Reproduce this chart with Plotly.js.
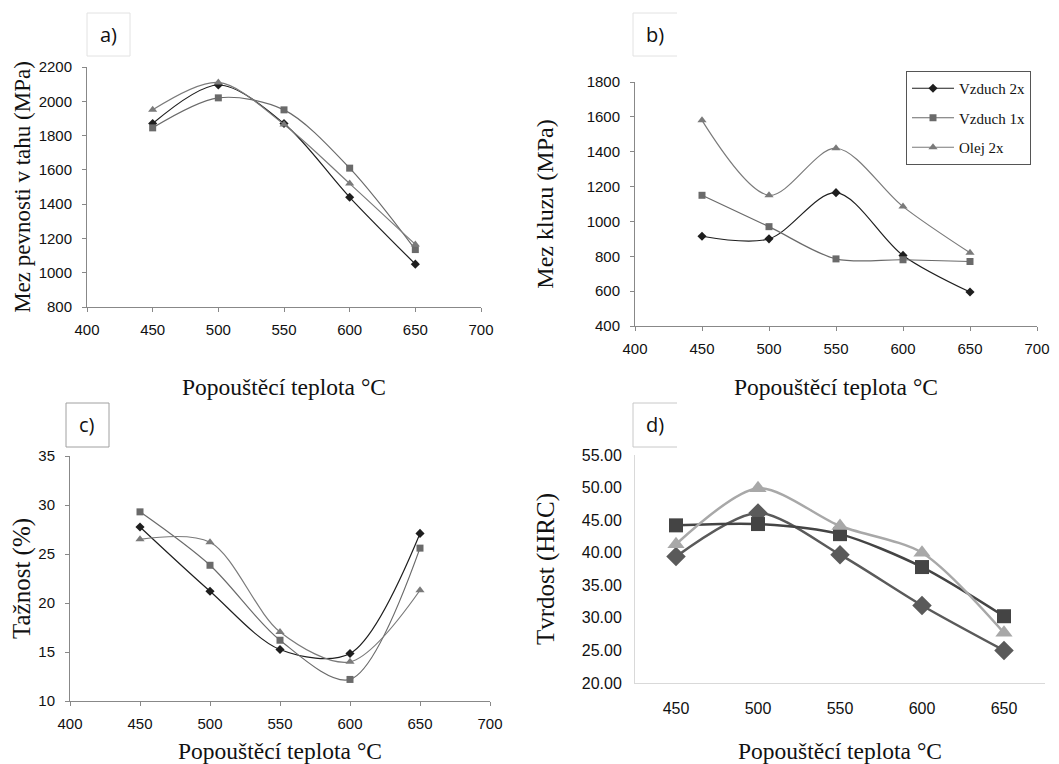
<!DOCTYPE html>
<html><head><meta charset="utf-8">
<script src="https://cdn.plot.ly/plotly-3.0.1.min.js"></script>
<style>html,body{margin:0;padding:0;background:#fff}</style>
</head><body><div id="chart" style="width:1059px;height:764px"></div>
<script>
// ---- data ----
const temps = [450, 500, 550, 600, 650];
const tempLabels = ['450', '500', '550', '600', '650'];
const seriesNames = ['Vzduch 2x', 'Vzduch 1x', 'Olej 2x'];
const panelLabels = ['a)', 'b)', 'c)', 'd)'];
const xTitle = 'Popouštěcí teplota °C';
const yTitles = ['Mez pevnosti v tahu (MPa)', 'Mez kluzu (MPa)', 'Tažnost (%)', 'Tvrdost (HRC)'];

// a) tensile strength
const tensileVzduch2 = [1870, 2095, 1870, 1440, 1050];
const tensileVzduch1 = [1845, 2020, 1950, 1610, 1135];
const tensileOlej2   = [1950, 2110, 1865, 1520, 1165];
// b) yield strength
const yieldVzduch2 = [915, 900, 1165, 805, 595];
const yieldVzduch1 = [1150, 970, 785, 780, 770];
const yieldOlej2   = [1580, 1150, 1420, 1085, 820];
// c) elongation
const elongVzduch2 = [27.75, 21.2, 15.25, 14.85, 27.1];
const elongVzduch1 = [29.3, 23.85, 16.2, 12.2, 25.6];
const elongOlej2   = [26.5, 26.2, 17.05, 14.0, 21.3];
// d) hardness
const hardVzduch2 = [39.4, 46.1, 39.7, 31.9, 25.0];
const hardVzduch1 = [44.2, 44.4, 42.85, 37.8, 30.25];
const hardOlej2   = [41.3, 49.9, 44.1, 40.0, 27.7];

// ---- layout helpers ----
const W = 1059, H = 764;
const px = (a, b) => [a / W, b / W];
const py = (top, bottom) => [1 - bottom / H, 1 - top / H];
const SERIF = 'Liberation Serif, Times New Roman, serif';
const SANS = 'Liberation Sans, Arial, sans-serif';

const symbols = ['diamond', 'square', 'triangle-up'];
const colorsABC = ['#1e1e1e', '#6a6a6a', '#7a7a7a'];
const colorsD = ['#5a5a5a', '#444444', '#a8a8a8'];

function tr(y, i, xa, ya, legend) {
  return {
    x: temps, y: y, xaxis: xa, yaxis: ya, name: seriesNames[i],
    type: 'scatter', mode: 'lines+markers',
    line: {color: colorsABC[i], width: 1.2, shape: 'spline', smoothing: 0.9},
    marker: {symbol: symbols[i], color: colorsABC[i], size: i === 2 ? 8 : 7},
    showlegend: legend, legendgroup: 'g' + i
  };
}
function trD(y, i) {
  return {
    x: tempLabels, y: y, xaxis: 'x4', yaxis: 'y4', name: seriesNames[i],
    type: 'scatter', mode: 'lines+markers',
    line: {color: colorsD[i], width: 2.5, shape: 'spline', smoothing: 0.8},
    marker: {symbol: symbols[i], color: colorsD[i], size: i === 1 ? 14 : 15},
    showlegend: false
  };
}

const data = [
  tr(tensileVzduch2, 0, 'x', 'y', false), tr(tensileVzduch1, 1, 'x', 'y', false), tr(tensileOlej2, 2, 'x', 'y', false),
  tr(yieldVzduch2, 0, 'x2', 'y2', true), tr(yieldVzduch1, 1, 'x2', 'y2', true), tr(yieldOlej2, 2, 'x2', 'y2', true),
  tr(elongVzduch2, 0, 'x3', 'y3', false), tr(elongVzduch1, 1, 'x3', 'y3', false), tr(elongOlej2, 2, 'x3', 'y3', false),
  trD(hardVzduch2, 0), trD(hardVzduch1, 1), trD(hardOlej2, 2)
];

const tickFont = {family: SANS, size: 15, color: '#111'};
const tickFontD = {family: SANS, size: 16, color: '#111'};
function xAx(dom, anchor, standoff) {
  return {domain: dom, anchor: anchor, range: [400, 700], dtick: 50, tick0: 400,
    ticks: 'outside', ticklen: 4, tickcolor: '#888', showline: true, linecolor: '#888',
    showgrid: false, zeroline: false, tickfont: tickFont, ticklabelstandoff: 5,
    title: {text: xTitle, font: {family: SERIF, size: 23.5, color: '#111'}, standoff: standoff}};
}
function yAx(dom, anchor, range, dtick, title, standoff, size) {
  return {domain: dom, anchor: anchor, range: range, dtick: dtick,
    ticks: 'outside', ticklen: 4, tickcolor: '#888', showline: true, linecolor: '#888',
    showgrid: false, zeroline: false, tickfont: tickFont, ticklabelstandoff: 7,
    title: {text: title, font: {family: SERIF, size: size, color: '#111'}, standoff: standoff}};
}

const layout = {
  width: W, height: H, margin: {l: 0, r: 0, t: 0, b: 0},
  paper_bgcolor: '#fff', plot_bgcolor: '#fff',
  xaxis:  xAx(px(87, 481), 'y', 41),
  yaxis:  yAx(py(67, 307), 'x', [800, 2200], 200, yTitles[0], 1, 23),
  xaxis2: xAx(px(635, 1037), 'y2', 22),
  yaxis2: yAx(py(82, 326), 'x2', [400, 1800], 200, yTitles[1], 26, 24),
  xaxis3: xAx(px(70, 490), 'y3', 15),
  yaxis3: yAx(py(456, 701), 'x3', [10, 35], 5, yTitles[2], 0, 25),
  xaxis4: {domain: px(635, 1045), anchor: 'y4', type: 'category', range: [-0.5, 4.5],
    showline: true, linecolor: '#d9d9d9', ticks: '', showgrid: false, zeroline: false,
    tickfont: tickFontD, ticklabelstandoff: 11,
    title: {text: xTitle, font: {family: SERIF, size: 23.5, color: '#111'}, standoff: 33}},
  yaxis4: {domain: py(455, 683), anchor: 'x4', range: [20, 55], dtick: 5, tickformat: '.2f',
    showline: true, linecolor: '#d9d9d9', ticks: '', showgrid: false, zeroline: false,
    tickfont: tickFontD, ticklabelstandoff: 9,
    title: {text: yTitles[3], font: {family: SERIF, size: 25, color: '#111'}, standoff: 20}},
  legend: {x: 906 / W, y: 1 - 71 / H, xanchor: 'left', yanchor: 'top',
    bordercolor: '#555', borderwidth: 1, bgcolor: '#fff', itemwidth: 42,
    font: {family: SERIF, size: 15, color: '#111'}, traceorder: 'grouped', tracegroupgap: 7},
  shapes: [
    {type: 'rect', xref: 'paper', yref: 'paper', x0: 87 / W, x1: 130 / W, y0: 1 - 56 / H, y1: 1 - 13 / H, line: {color: '#e2e2e2', width: 1}},
    {type: 'path', xref: 'paper', yref: 'paper', path: `M ${677 / W} ${1 - 13 / H} L ${633 / W} ${1 - 13 / H} L ${633 / W} ${1 - 56 / H} L ${677 / W} ${1 - 56 / H}`, line: {color: '#e2e2e2', width: 1}},
    {type: 'rect', xref: 'paper', yref: 'paper', x0: 66 / W, x1: 109 / W, y0: 1 - 447 / H, y1: 1 - 403 / H, line: {color: '#a0a0a0', width: 1}},
    {type: 'path', xref: 'paper', yref: 'paper', path: `M ${677 / W} ${1 - 403 / H} L ${633 / W} ${1 - 403 / H} L ${633 / W} ${1 - 447 / H} L ${677 / W} ${1 - 447 / H}`, line: {color: '#c8c8c8', width: 1}}
  ],
  annotations: [
    {text: panelLabels[0], x: 108 / W, y: 1 - 34 / H},
    {text: panelLabels[1], x: 655 / W, y: 1 - 34 / H},
    {text: panelLabels[2], x: 87 / W, y: 1 - 425 / H},
    {text: panelLabels[3], x: 655 / W, y: 1 - 425 / H}
  ].map(a => Object.assign(a, {xref: 'paper', yref: 'paper', xanchor: 'center', yanchor: 'middle', showarrow: false,
    font: {family: 'Open Sans, sans-serif', size: 20, color: '#111'}}))
};

Plotly.newPlot('chart', data, layout, {displayModeBar: false, staticPlot: true});
</script></body></html>
